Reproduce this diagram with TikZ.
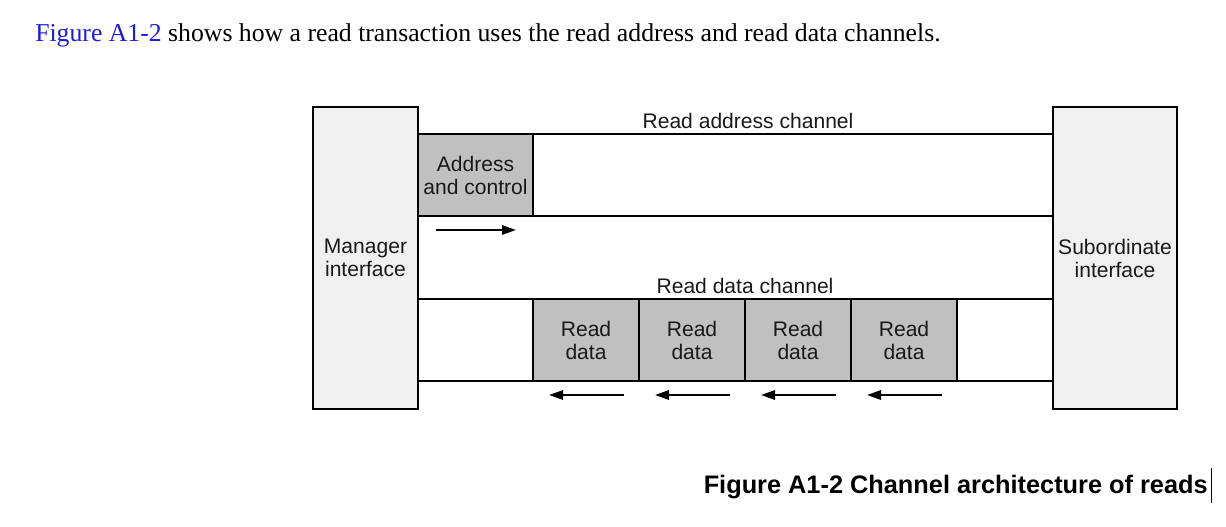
\documentclass[tikz,border=0pt]{standalone}
\usepackage{fontspec}
\setmainfont{Liberation Serif}
\newfontfamily\arial{Liberation Sans}
\usetikzlibrary{arrows.meta}
\definecolor{ifgray}{HTML}{F0F0F0}
\definecolor{pktgray}{HTML}{C0C0C0}
\definecolor{linkblue}{HTML}{1A1AE6}
\tikzset{
  lbl/.style={font=\arial\fontsize{15.8}{17.3}\selectfont, align=center, inner sep=0pt, text=black!90},
  iface/.style={lbl, draw, line width=1.5pt, fill=ifgray, outer sep=0pt},
  pkt/.style={lbl, draw, line width=1.5pt, fill=pktgray, outer sep=0pt,
    minimum height=61.5pt},
  chan/.style={line width=1.5pt},
  flow/.style={->, line width=1.5pt}
}
\begin{document}
\begin{tikzpicture}[x=0.75pt, y=-0.75pt, >={Triangle[length=10.5pt,width=7pt]}]
\useasboundingbox (0,0) rectangle (1226,526);
% text above the figure
\node[anchor=base west, inner sep=0pt, font=\fontsize{19.3}{23}\selectfont] (intro) at (35,41.5)
  {\textcolor{linkblue}{Figure A1-2} shows how a read transaction uses the read address and read data channels.};
% the two ends
\node[iface, minimum width=78.75pt, minimum height=226.5pt] (mgr) at (365.5,258) {Manager\\interface};
\node[iface, minimum width=93pt, minimum height=226.5pt] (sub) at (1115,258) {Subordinate\\interface};
% read address channel
\node[pkt, minimum width=86.25pt] (addr) at (475.5,175) {Address\\and control};
\draw[chan] (addr.north east) -- (addr.north east -| sub.west);
\draw[chan] (addr.south east) -- (addr.south east -| sub.west);
\node[lbl] (achan) at (748,121) {Read address channel};
\coordinate (ra0) at (436,230);
\coordinate (ra1) at (516,230);
\draw[flow] (ra0) -- (ra1);
% read data channel
\foreach \i in {1,...,4}
  \node[pkt, minimum width=79.5pt] (rd\i) at ({586+106*(\i-1)},340) {Read\\data};
\draw[chan] (rd1.north west -| mgr.east) -- (rd1.north west -| sub.west);
\draw[chan] (rd1.south west -| mgr.east) -- (rd1.south west -| sub.west);
\node[lbl] (dchan) at (745,286) {Read data channel};
\foreach \i in {1,...,4}
  \draw[flow] ([shift={(-15,14)}]rd\i.south east) -- ([shift={(16,14)}]rd\i.south west);
% caption
\node[anchor=base east, inner sep=0pt, font=\arial\bfseries\fontsize{19}{23}\selectfont] (cap) at (1208,493)
  {Figure A1-2 Channel architecture of reads};
\coordinate (cur) at (1211,468);
\draw[line width=0.75pt] (cur) -- ++(0,35);
\end{tikzpicture}
\end{document}
